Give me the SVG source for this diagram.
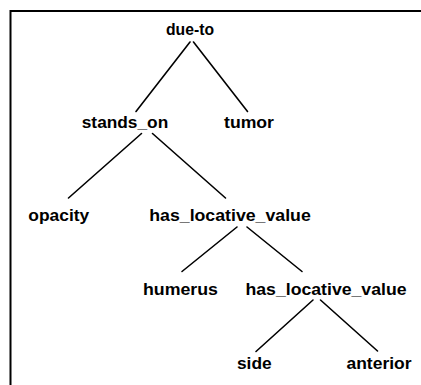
<svg xmlns="http://www.w3.org/2000/svg" width="421" height="385" viewBox="0 0 421 385">
<style>
.lbl{font-family:"Liberation Sans",Arial,Helvetica,sans-serif;font-weight:bold;font-size:17px;fill:#000;text-anchor:middle}
.edge{stroke:#000;stroke-width:1.6;fill:none;stroke-linecap:round}
.frame{stroke:#000;stroke-width:2;fill:none}
</style>
<rect width="421" height="385" fill="#fff"/>
<path class="frame" d="M10.5,385 V11 H421"/>
<g id="connectors">
<line class="edge" x1="190" y1="42" x2="136" y2="111.5"/>
<line class="edge" x1="193.5" y1="42" x2="247.5" y2="111.5"/>
<line class="edge" x1="141.5" y1="133.5" x2="68.5" y2="198"/>
<line class="edge" x1="152.5" y1="133.5" x2="225.5" y2="198"/>
<line class="edge" x1="237" y1="227" x2="182" y2="271.5"/>
<line class="edge" x1="247" y1="227" x2="302" y2="271.5"/>
<line class="edge" x1="313" y1="300" x2="256" y2="351.5"/>
<line class="edge" x1="320.5" y1="300" x2="377.5" y2="351"/>
</g>
<g id="due-to"><text class="lbl" x="190" y="35" textLength="48" lengthAdjust="spacingAndGlyphs">due-to</text></g>
<g id="stands_on"><text class="lbl" x="125" y="128" textLength="86.5" lengthAdjust="spacingAndGlyphs">stands_on</text></g>
<g id="tumor"><text class="lbl" x="249" y="128" textLength="50" lengthAdjust="spacingAndGlyphs">tumor</text></g>
<g id="opacity"><text class="lbl" x="58.8" y="221" textLength="61" lengthAdjust="spacingAndGlyphs">opacity</text></g>
<g id="has_locative_value_1"><text class="lbl" x="230" y="221" textLength="161.5" lengthAdjust="spacingAndGlyphs">has_locative_value</text></g>
<g id="humerus"><text class="lbl" x="180.5" y="295" textLength="75" lengthAdjust="spacingAndGlyphs">humerus</text></g>
<g id="has_locative_value_2"><text class="lbl" x="326" y="295" textLength="161" lengthAdjust="spacingAndGlyphs">has_locative_value</text></g>
<g id="side"><text class="lbl" x="254.3" y="369" textLength="34.7" lengthAdjust="spacingAndGlyphs">side</text></g>
<g id="anterior"><text class="lbl" x="379" y="369" textLength="65" lengthAdjust="spacingAndGlyphs">anterior</text></g>
</svg>
